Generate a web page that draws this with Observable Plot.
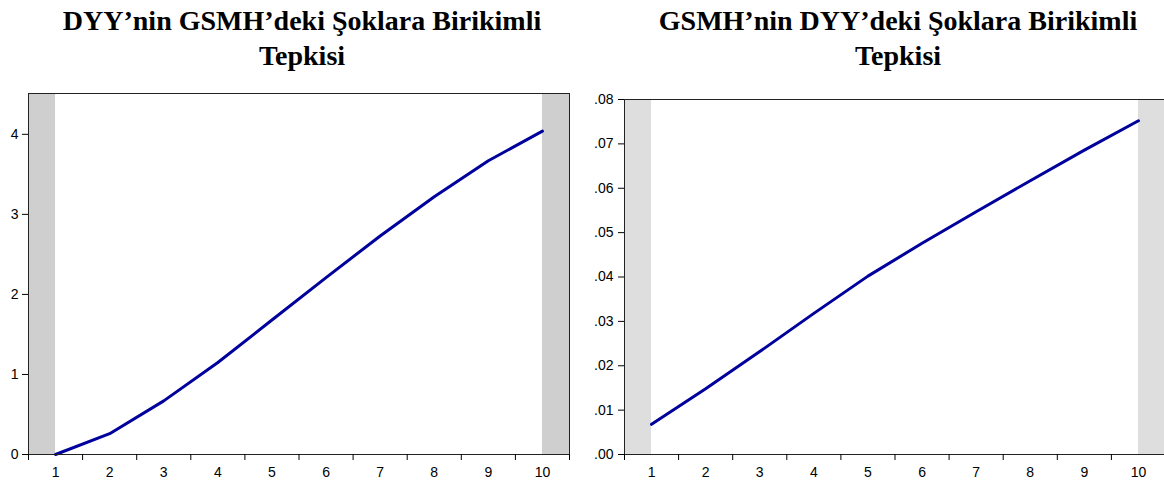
<!DOCTYPE html>
<html>
<head>
<meta charset="utf-8">
<script src="https://cdn.jsdelivr.net/npm/d3@7"></script>
<script src="https://cdn.jsdelivr.net/npm/@observablehq/plot@0.6"></script>
<style>
  html, body { margin: 0; padding: 0; background: #fff; }
  body { width: 1164px; height: 481px; overflow: hidden; position: relative; }
  .title { position: absolute; text-align: center; font-family: "Liberation Serif", "Times New Roman", serif;
           font-weight: bold; font-size: 28px; line-height: 35px; color: #000; white-space: nowrap; }
  .chart { position: absolute; top: 0; width: 600px; }
  .chart svg { overflow: visible; max-width: none !important; }
  .chart svg text { font-size: 14px !important; font-family: "Liberation Sans", Arial, sans-serif !important; }
</style>
</head>
<body>
<div id="t1" class="title"></div>
<div id="t2" class="title"></div>
<div id="c1" class="chart"></div>
<div id="c2" class="chart"></div>
<script>
// ---- data ----
const periods = [1, 2, 3, 4, 5, 6, 7, 8, 9, 10];
const dyyResponse = [0.0, 0.26, 0.67, 1.15, 1.68, 2.21, 2.73, 3.22, 3.67, 4.04];
const gsmhResponse = [0.0068, 0.0148, 0.0232, 0.0318, 0.0402, 0.0476, 0.0547, 0.0617, 0.0686, 0.0752];
const leftYTicks = [0, 1, 2, 3, 4];
const rightYTicks = [0, 0.01, 0.02, 0.03, 0.04, 0.05, 0.06, 0.07, 0.08];
const titleLeft = ["DYY’nin GSMH’deki Şoklara Birikimli", "Tepkisi"];
const titleRight = ["GSMH’nin DYY’deki Şoklara Birikimli", "Tepkisi"];

function setTitle(id, lines, center, top) {
  const el = document.getElementById(id);
  el.innerHTML = lines.map(l => `<div>${l}</div>`).join("");
  const width = 560;
  Object.assign(el.style, {left: (center - width / 2) + "px", width: width + "px", top: top + "px"});
}
setTitle("t1", titleLeft, 302, 3);
setTitle("t2", titleRight, 898, 3);

const tickEdges = d3.range(periods[0] - 0.5, periods[periods.length - 1] + 1, 1);

function makeChart({values, yDomain, yTicks, yFormat, yPad, bandFill, width, marginLeft, marginRight, marginTop, marginBottom}) {
  const data = periods.map((p, i) => ({period: p, value: values[i]}));
  const first = periods[0], last = periods[periods.length - 1];
  const bands = [
    {x1: first - 0.5, x2: first},
    {x1: last, x2: last + 0.5}
  ];
  return Plot.plot({
    width, height: 481,
    marginLeft, marginRight, marginTop, marginBottom,
    style: {fontFamily: "Liberation Sans, Arial, sans-serif", fontSize: "14px", color: "#000", background: "transparent"},
    x: {domain: [first - 0.5, last + 0.5], label: null},
    y: {domain: yDomain, label: null},
    marks: [
      Plot.rect(bands, {x1: "x1", x2: "x2", y1: yDomain[0], y2: yDomain[1], fill: bandFill}),
      Plot.line(data, {x: "period", y: "value", stroke: "#00009c", strokeWidth: 3}),
      Plot.frame({stroke: "#222", strokeWidth: 1}),
      Plot.axisX({ticks: tickEdges, tickSize: 6, tickFormat: () => "", stroke: "#000", label: null}),
      Plot.axisX({ticks: periods, tickSize: 0, tickPadding: 13, tickFormat: d => String(d), label: null}),
      Plot.axisY({ticks: yTicks, tickSize: 6, tickPadding: yPad, tickFormat: yFormat, stroke: "#000", label: null})
    ]
  });
}

const c1 = makeChart({
  values: dyyResponse, yDomain: [0, 4.51], yTicks: leftYTicks, yFormat: d => String(d), yPad: 4,
  bandFill: "#cfcfcf", width: 600, marginLeft: 28, marginRight: 31, marginTop: 93, marginBottom: 27
});
document.getElementById("c1").style.left = "0px";
document.getElementById("c1").appendChild(c1);

const c2 = makeChart({
  values: gsmhResponse, yDomain: [0, 0.08], yTicks: rightYTicks, yFormat: d => d3.format(".2f")(d).replace(/^0/, ""), yPad: 5,
  bandFill: "#dedede", width: 600, marginLeft: 44, marginRight: 15, marginTop: 99, marginBottom: 27
});
document.getElementById("c2").style.left = "580px";
document.getElementById("c2").appendChild(c2);
</script>
</body>
</html>
